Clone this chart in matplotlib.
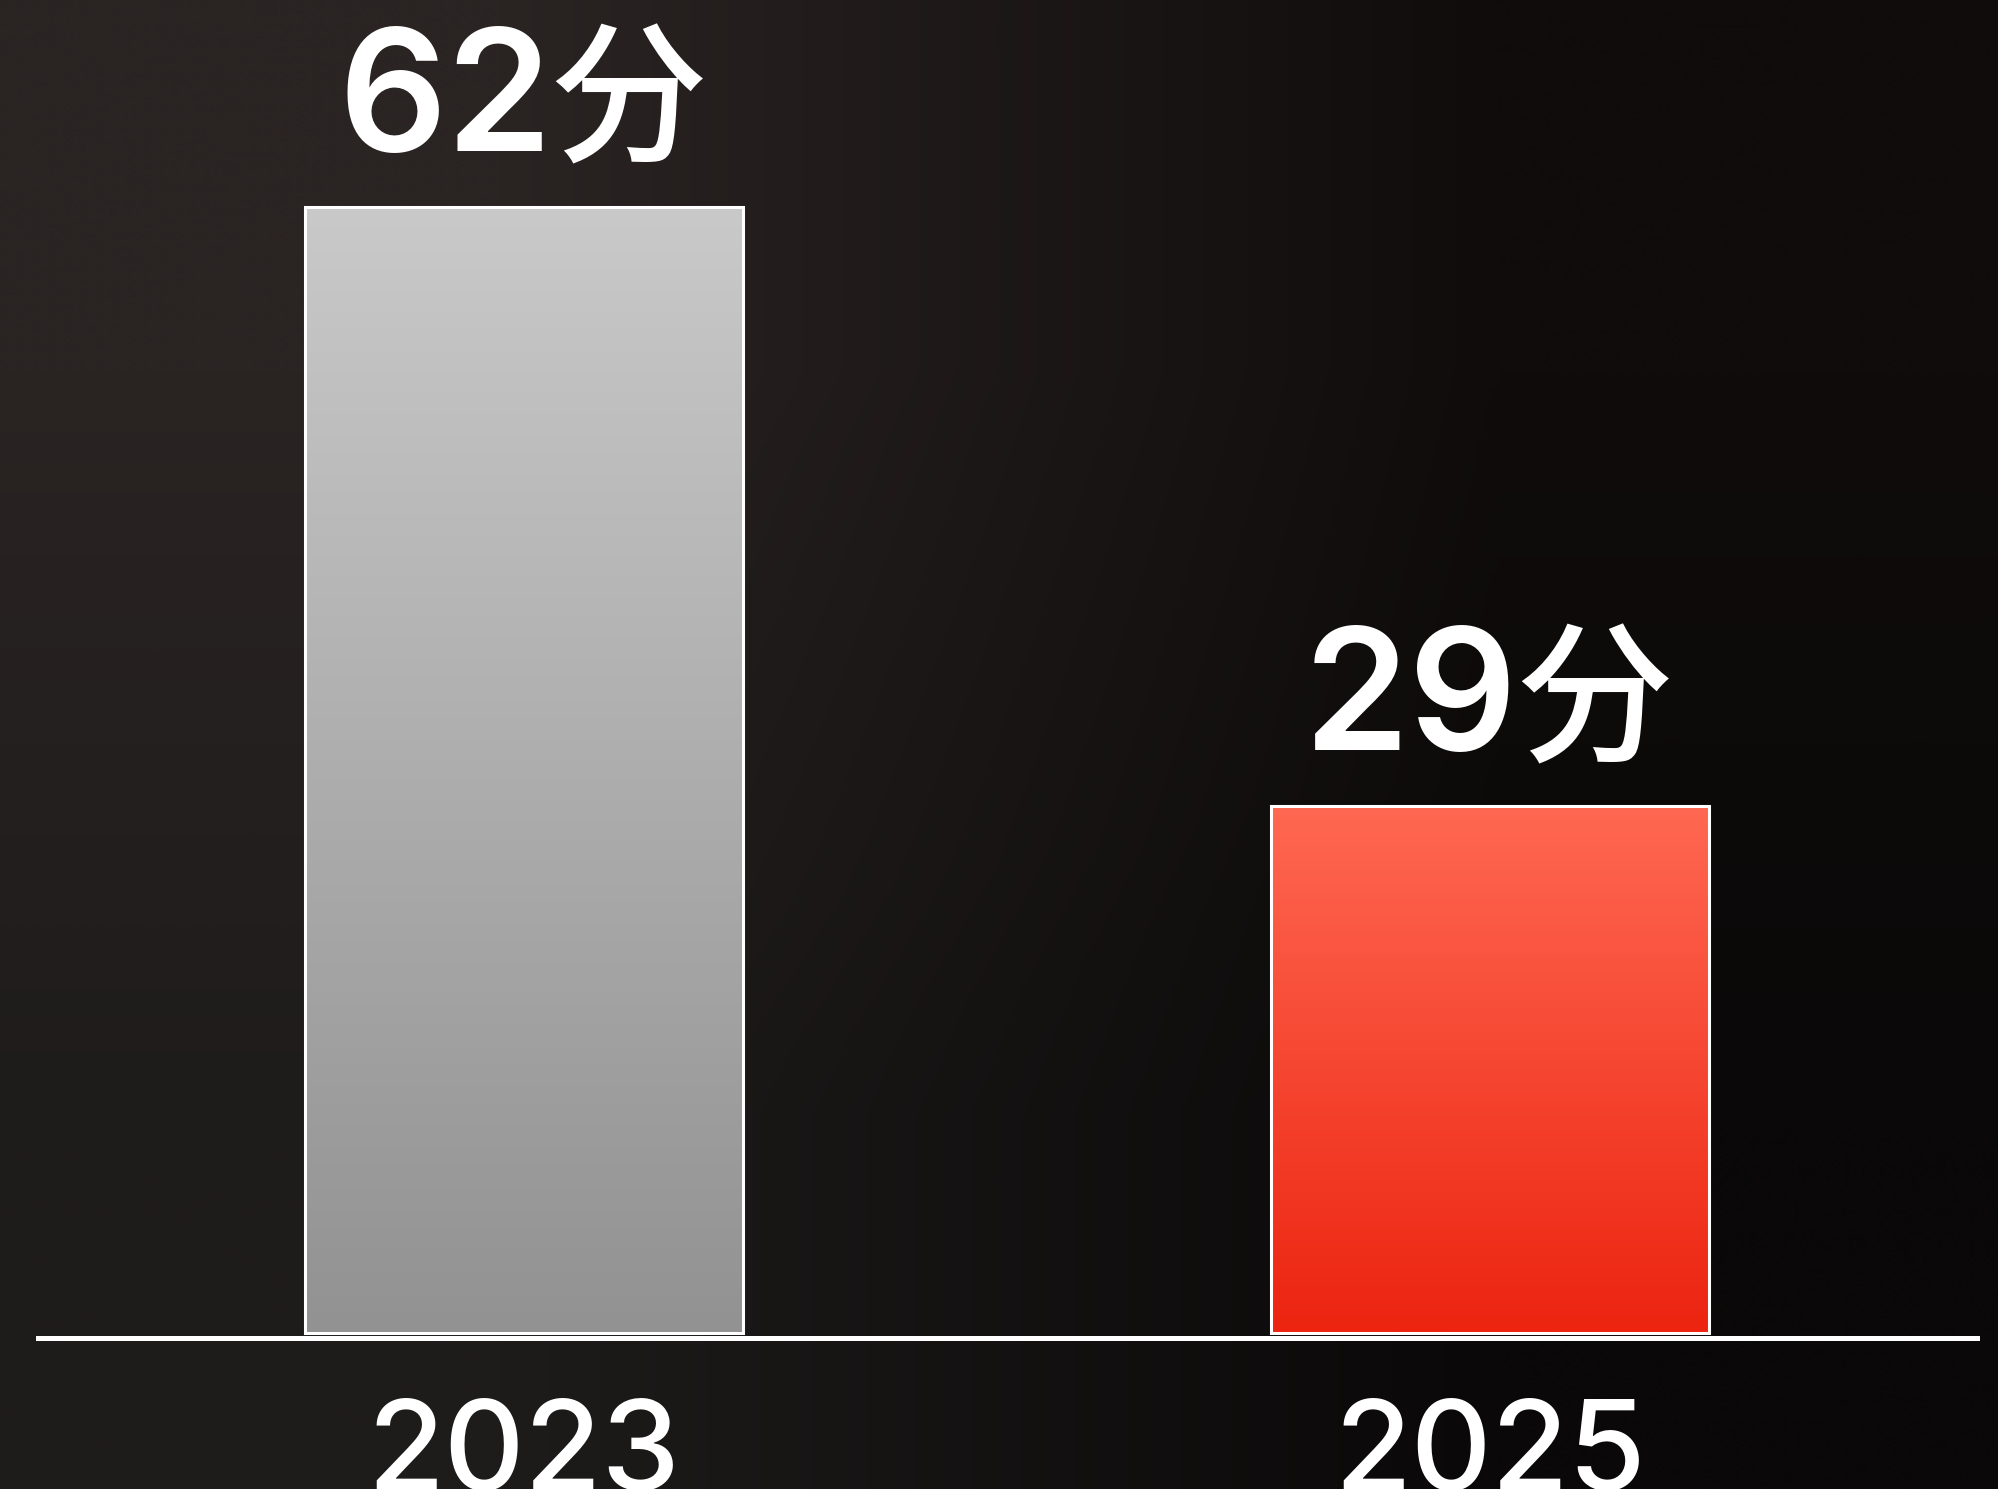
import numpy as np
import matplotlib
matplotlib.use("Agg")
import matplotlib.pyplot as plt
from matplotlib.patches import Rectangle
from matplotlib.colors import LinearSegmentedColormap

# data
years = ["2023", "2025"]
minutes = [62, 29]
unit_label = "分"

# bar gradients (top colour, bottom colour)
bar_top_colors = ["#c9c9c9", "#ff6852"]
bar_bottom_colors = ["#929292", "#ec2410"]

W, H, DPI = 1998, 1489, 100
fig = plt.figure(figsize=(W / DPI, H / DPI), dpi=DPI)

# dark background, warmer on the left, almost black on the right
bg = fig.add_axes([0, 0, 1, 1], zorder=0)
corners = np.array([[[42, 36, 35], [16, 12, 12]],
                    [[30, 28, 27], [10, 8, 8]]]) / 255.0
bg.imshow(corners, extent=[0, 1, 0, 1], interpolation="bilinear", aspect="auto")
bg.set_xlim(0, 1)
bg.set_ylim(0, 1)
bg.axis("off")

k = 1126 / 62.0                 # px per minute
y_base_px = 1333                # y pixel of value 0
ax_top_px, ax_bot_px = 100, 1400
ax = fig.add_axes([0, (H - ax_bot_px) / H, 1, (ax_bot_px - ax_top_px) / H], zorder=1)
ax.patch.set_alpha(0)
ax.set_ylim(-(ax_bot_px - y_base_px) / k, (y_base_px - ax_top_px) / k)

unit_px = 1490 - 524
ax.set_xlim(-524 / unit_px, (W - 524) / unit_px)
bar_w = 438 / unit_px
split_num = 28 / unit_px        # right edge of the number
split_unit = 28 / unit_px       # left edge of 分
x = np.arange(len(years))

num_fonts = ["Inter", "DejaVu Sans"]
cjk_fonts = ["Noto Sans CJK JP", "DejaVu Sans"]

for i, v in enumerate(minutes):
    x0 = x[i] - bar_w / 2
    cmap = LinearSegmentedColormap.from_list(
        "g%d" % i, [bar_bottom_colors[i], bar_top_colors[i]])
    grad = np.linspace(0, 1, 256).reshape(-1, 1)
    ax.imshow(grad, extent=[x0, x0 + bar_w, 0, v], origin="lower",
              cmap=cmap, aspect="auto", zorder=2)
    ax.add_patch(Rectangle((x0, 0), bar_w, v, fill=False,
                           edgecolor="white", linewidth=2.2, zorder=3))

    # value label: number + 分
    ax.text(x[i] + split_num, v + 3.1, str(v), ha="right", va="baseline",
            color="white", fontsize=122, fontweight="semibold",
            family=num_fonts, zorder=4)
    ax.text(x[i] + split_unit, v + 3.1, unit_label, ha="left", va="baseline",
            color="white", fontsize=110, fontweight="medium",
            family=cjk_fonts, zorder=4)

    ax.text(x[i], -(1490 - y_base_px) / k, years[i], ha="center", va="baseline",
            color="white", fontsize=90, fontweight="medium",
            family=num_fonts, zorder=4)

# white baseline under the bars
ax.axhline(-5 / k, xmin=38 / W, xmax=1977 / W, color="white", linewidth=3.6, zorder=3)

ax.axis("off")
fig.savefig("out.png", dpi=DPI)
